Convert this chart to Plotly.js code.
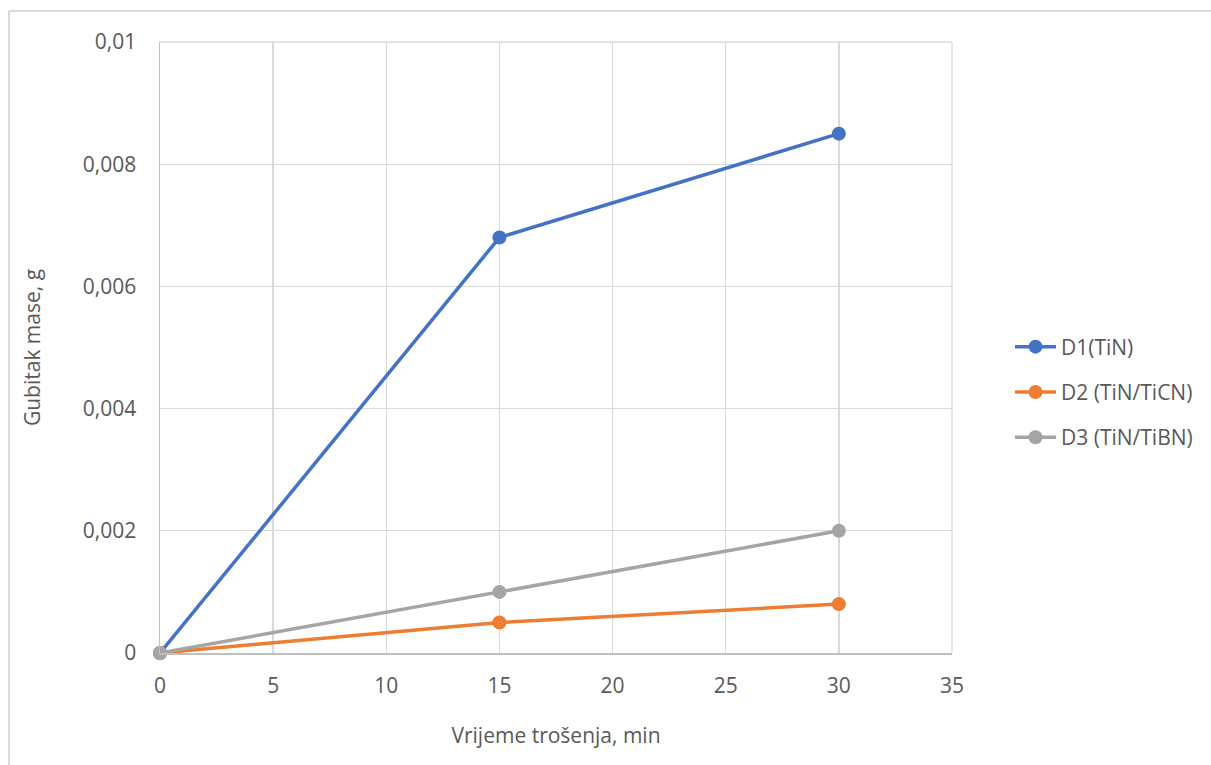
<!DOCTYPE html>
<html>
<head>
<meta charset="utf-8">
<script src="https://cdn.plot.ly/plotly-3.0.1.min.js"></script>
<style>html,body{margin:0;padding:0;background:#fff;}#chart{width:1211px;height:765px;}</style>
</head>
<body>
<div id="chart"></div>
<script>
const timeMin = [0, 15, 30];
const d1 = [0, 0.0068, 0.0085];
const d2 = [0, 0.0005, 0.0008];
const d3 = [0, 0.001, 0.002];
const seriesNames = ['D1(TiN)', 'D2 (TiN/TiCN)', 'D3 (TiN/TiBN)'];
const seriesColors = ['#4472C4', '#ED7D31', '#A5A5A5'];
const yTicks = [0, 0.002, 0.004, 0.006, 0.008, 0.01];
const yTickText = ['0', '0,002', '0,004', '0,006', '0,008', '0,01'];
const xTicks = [0, 5, 10, 15, 20, 25, 30, 35];

const font = "Open Sans, Lato, sans-serif";
const series = [d1, d2, d3];
const traces = series.map((ys, i) => ({
  x: timeMin, y: ys, name: seriesNames[i], type: 'scatter', mode: 'lines+markers',
  legendgroup: 'g' + i, cliponaxis: false,
  line: {color: seriesColors[i], width: 3.5},
  marker: {color: seriesColors[i], size: 14}
}));
const L = 160, R = 952, T = 42, B = 653;
const pw = R - L, ph = B - T;
const txt = {size: 21, color: '#595959', family: font};
const layout = {
  width: 1211, height: 765,
  margin: {l: L, r: 1211 - R, t: T, b: 765 - B},
  paper_bgcolor: '#fff', plot_bgcolor: '#fff',
  font: txt,
  separators: ', ',
  showlegend: true,
  legend: {x: (1010 - L) / pw, y: (B - 392) / ph, yanchor: 'middle', xanchor: 'left', font: txt, tracegroupgap: 15, itemwidth: 41, bgcolor: 'rgba(0,0,0,0)'},
  xaxis: {
    range: [0, 35], tickvals: xTicks, ticktext: xTicks.map(String),
    showgrid: true, gridcolor: '#D9D9D9', gridwidth: 1.3,
    zeroline: false, showline: true, linecolor: '#BFBFBF', linewidth: 1.5,
    ticks: '', ticklabelstandoff: 13,
    tickfont: txt,
    title: {text: 'Vrijeme trošenja, min', font: txt, standoff: 30}
  },
  yaxis: {
    range: [0, 0.01], tickvals: yTicks, ticktext: yTickText,
    showgrid: true, gridcolor: '#D9D9D9', gridwidth: 1.3,
    zeroline: false, showline: true, linecolor: '#BFBFBF', linewidth: 1.5,
    ticks: '', ticklabelstandoff: 18, tickfont: txt,
    title: {text: 'Gubitak mase, g', font: txt, standoff: 36}
  },
  shapes: [
    {type: 'line', xref: 'paper', yref: 'paper', x0: (9 - L) / pw, x1: (9 - L) / pw, y0: (B - 11) / ph, y1: (B - 770) / ph, line: {color: '#D9D9D9', width: 2}},
    {type: 'line', xref: 'paper', yref: 'paper', x0: (9 - L) / pw, x1: (1215 - L) / pw, y0: (B - 11) / ph, y1: (B - 11) / ph, line: {color: '#D9D9D9', width: 2}},
    {type: 'line', xref: 'paper', yref: 'paper', x0: 1, x1: 1, y0: 0, y1: 1, line: {color: '#D9D9D9', width: 1.3}},
    {type: 'line', xref: 'paper', yref: 'paper', x0: 0, x1: 1, y0: 1, y1: 1, line: {color: '#D9D9D9', width: 1.3}}
  ]
};
Plotly.newPlot('chart', traces, layout, {displayModeBar: false, staticPlot: true});
</script>
</body>
</html>
